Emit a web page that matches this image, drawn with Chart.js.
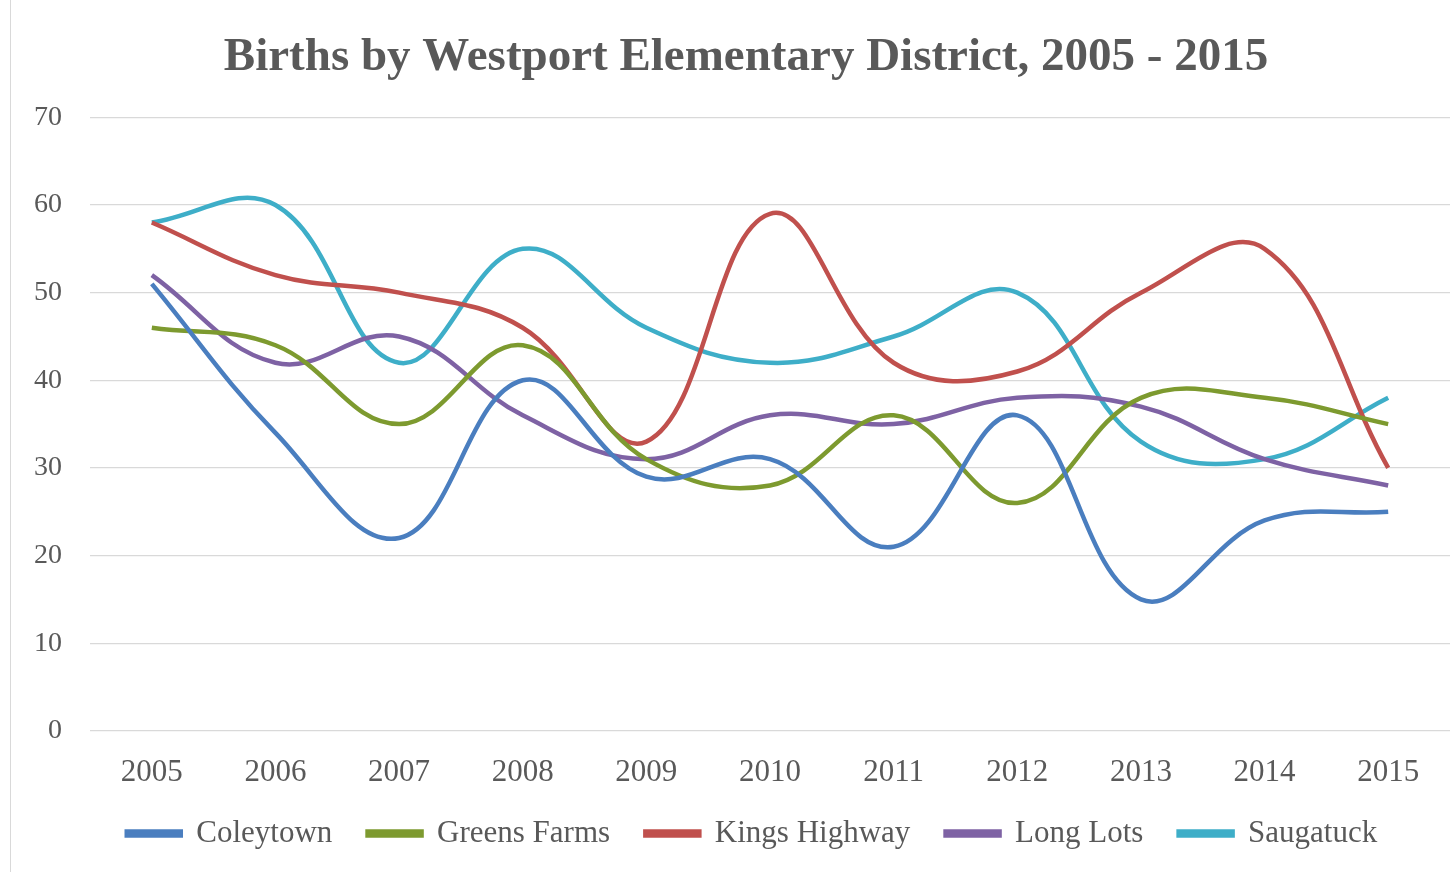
<!DOCTYPE html>
<html>
<head>
<meta charset="utf-8">
<script src="https://cdn.jsdelivr.net/npm/chart.js@4"></script>
<style>
  html, body { margin: 0; padding: 0; background: #fff; }
  #wrap { position: relative; width: 1454px; height: 872px; }
  #frame { position: absolute; left: 10px; top: 0; width: 1px; height: 872px; background: #d9d9d9; }
</style>
</head>
<body>
<div id="wrap">
  <div id="frame"></div>
  <canvas id="myChart" width="1454" height="872"></canvas>
</div>
<script>
'use strict';

// Datos
const years = ['2005', '2006', '2007', '2008', '2009', '2010', '2011', '2012', '2013', '2014', '2015'];
const coleytown = [51, 34, 22, 40, 29, 31, 21, 36, 15, 24, 25];
const greensFarms = [46, 44, 35, 44, 31, 28, 36, 26, 38, 38, 35];
const kingsHighway = [58, 52, 50, 46, 33, 59, 42, 41, 50, 55, 30];
const longLots = [52, 42, 45, 36, 31, 36, 35, 38, 37, 31, 28];
const saugatuck = [58, 60, 42, 55, 46, 42, 45, 50, 33, 31, 38];

const fontName = '"Liberation Serif", "DejaVu Serif", serif';
const textColor = '#595959';

function serie(label, data, color) {
  return {
    label: label,
    data: data,
    borderColor: color,
    backgroundColor: color,
    borderWidth: 4.5,
    pointRadius: 0,
    tension: 0.4,
    fill: false
  };
}

// El titulo y la leyenda del original estan un poco corridos a la derecha
const shiftBlocks = {
  id: 'shiftBlocks',
  afterLayout(chart) {
    if (chart.titleBlock) {
      chart.titleBlock.left += 18;
      chart.titleBlock.right += 18;
    }
    if (chart.legend) {
      chart.legend.left += 24;
      chart.legend.right += 24;
    }
  }
};

const ctx = document.getElementById('myChart').getContext('2d');
const myChart = new Chart(ctx, {
  type: 'line',
  data: {
    labels: years,
    datasets: [
      serie('Coleytown', coleytown, '#4A7EBF'),
      serie('Greens Farms', greensFarms, '#7D9A2F'),
      serie('Kings Highway', kingsHighway, '#C0504D'),
      serie('Long Lots', longLots, '#7E62A4'),
      serie('Saugatuck', saugatuck, '#3EAEC8')
    ]
  },
  plugins: [shiftBlocks],
  options: {
    responsive: false,
    animation: false,
    layout: {
      padding: { left: 6, right: 4, top: 24, bottom: 13 }
    },
    plugins: {
      title: {
        display: true,
        text: 'Births by Westport Elementary District, 2005 - 2015',
        color: textColor,
        font: { family: fontName, size: 47, weight: 'bold' },
        padding: { top: 6, bottom: 31 }
      },
      legend: {
        position: 'bottom',
        labels: {
          color: textColor,
          font: { family: fontName, size: 31 },
          boxWidth: 54,
          boxHeight: 4,
          padding: 12,
          // espacios al final para separar los items como en el original
          generateLabels: function (chart) {
            const items = Chart.defaults.plugins.legend.labels.generateLabels(chart);
            items.forEach((item, i) => {
              if (i < items.length - 1) item.text = item.text + '   ';
            });
            return items;
          }
        }
      },
      tooltip: { enabled: false }
    },
    scales: {
      x: {
        offset: true,
        grid: { display: false },
        border: { display: false },
        ticks: {
          color: textColor,
          font: { family: fontName, size: 31 },
          padding: 15,
          maxRotation: 0
        }
      },
      y: {
        min: 0,
        max: 70,
        grid: { color: '#d9d9d9', lineWidth: 1.2, drawTicks: false },
        border: { display: false },
        ticks: {
          stepSize: 10,
          color: textColor,
          font: { family: fontName, size: 28 },
          padding: 28
        }
      }
    }
  }
});
</script>
</body>
</html>
